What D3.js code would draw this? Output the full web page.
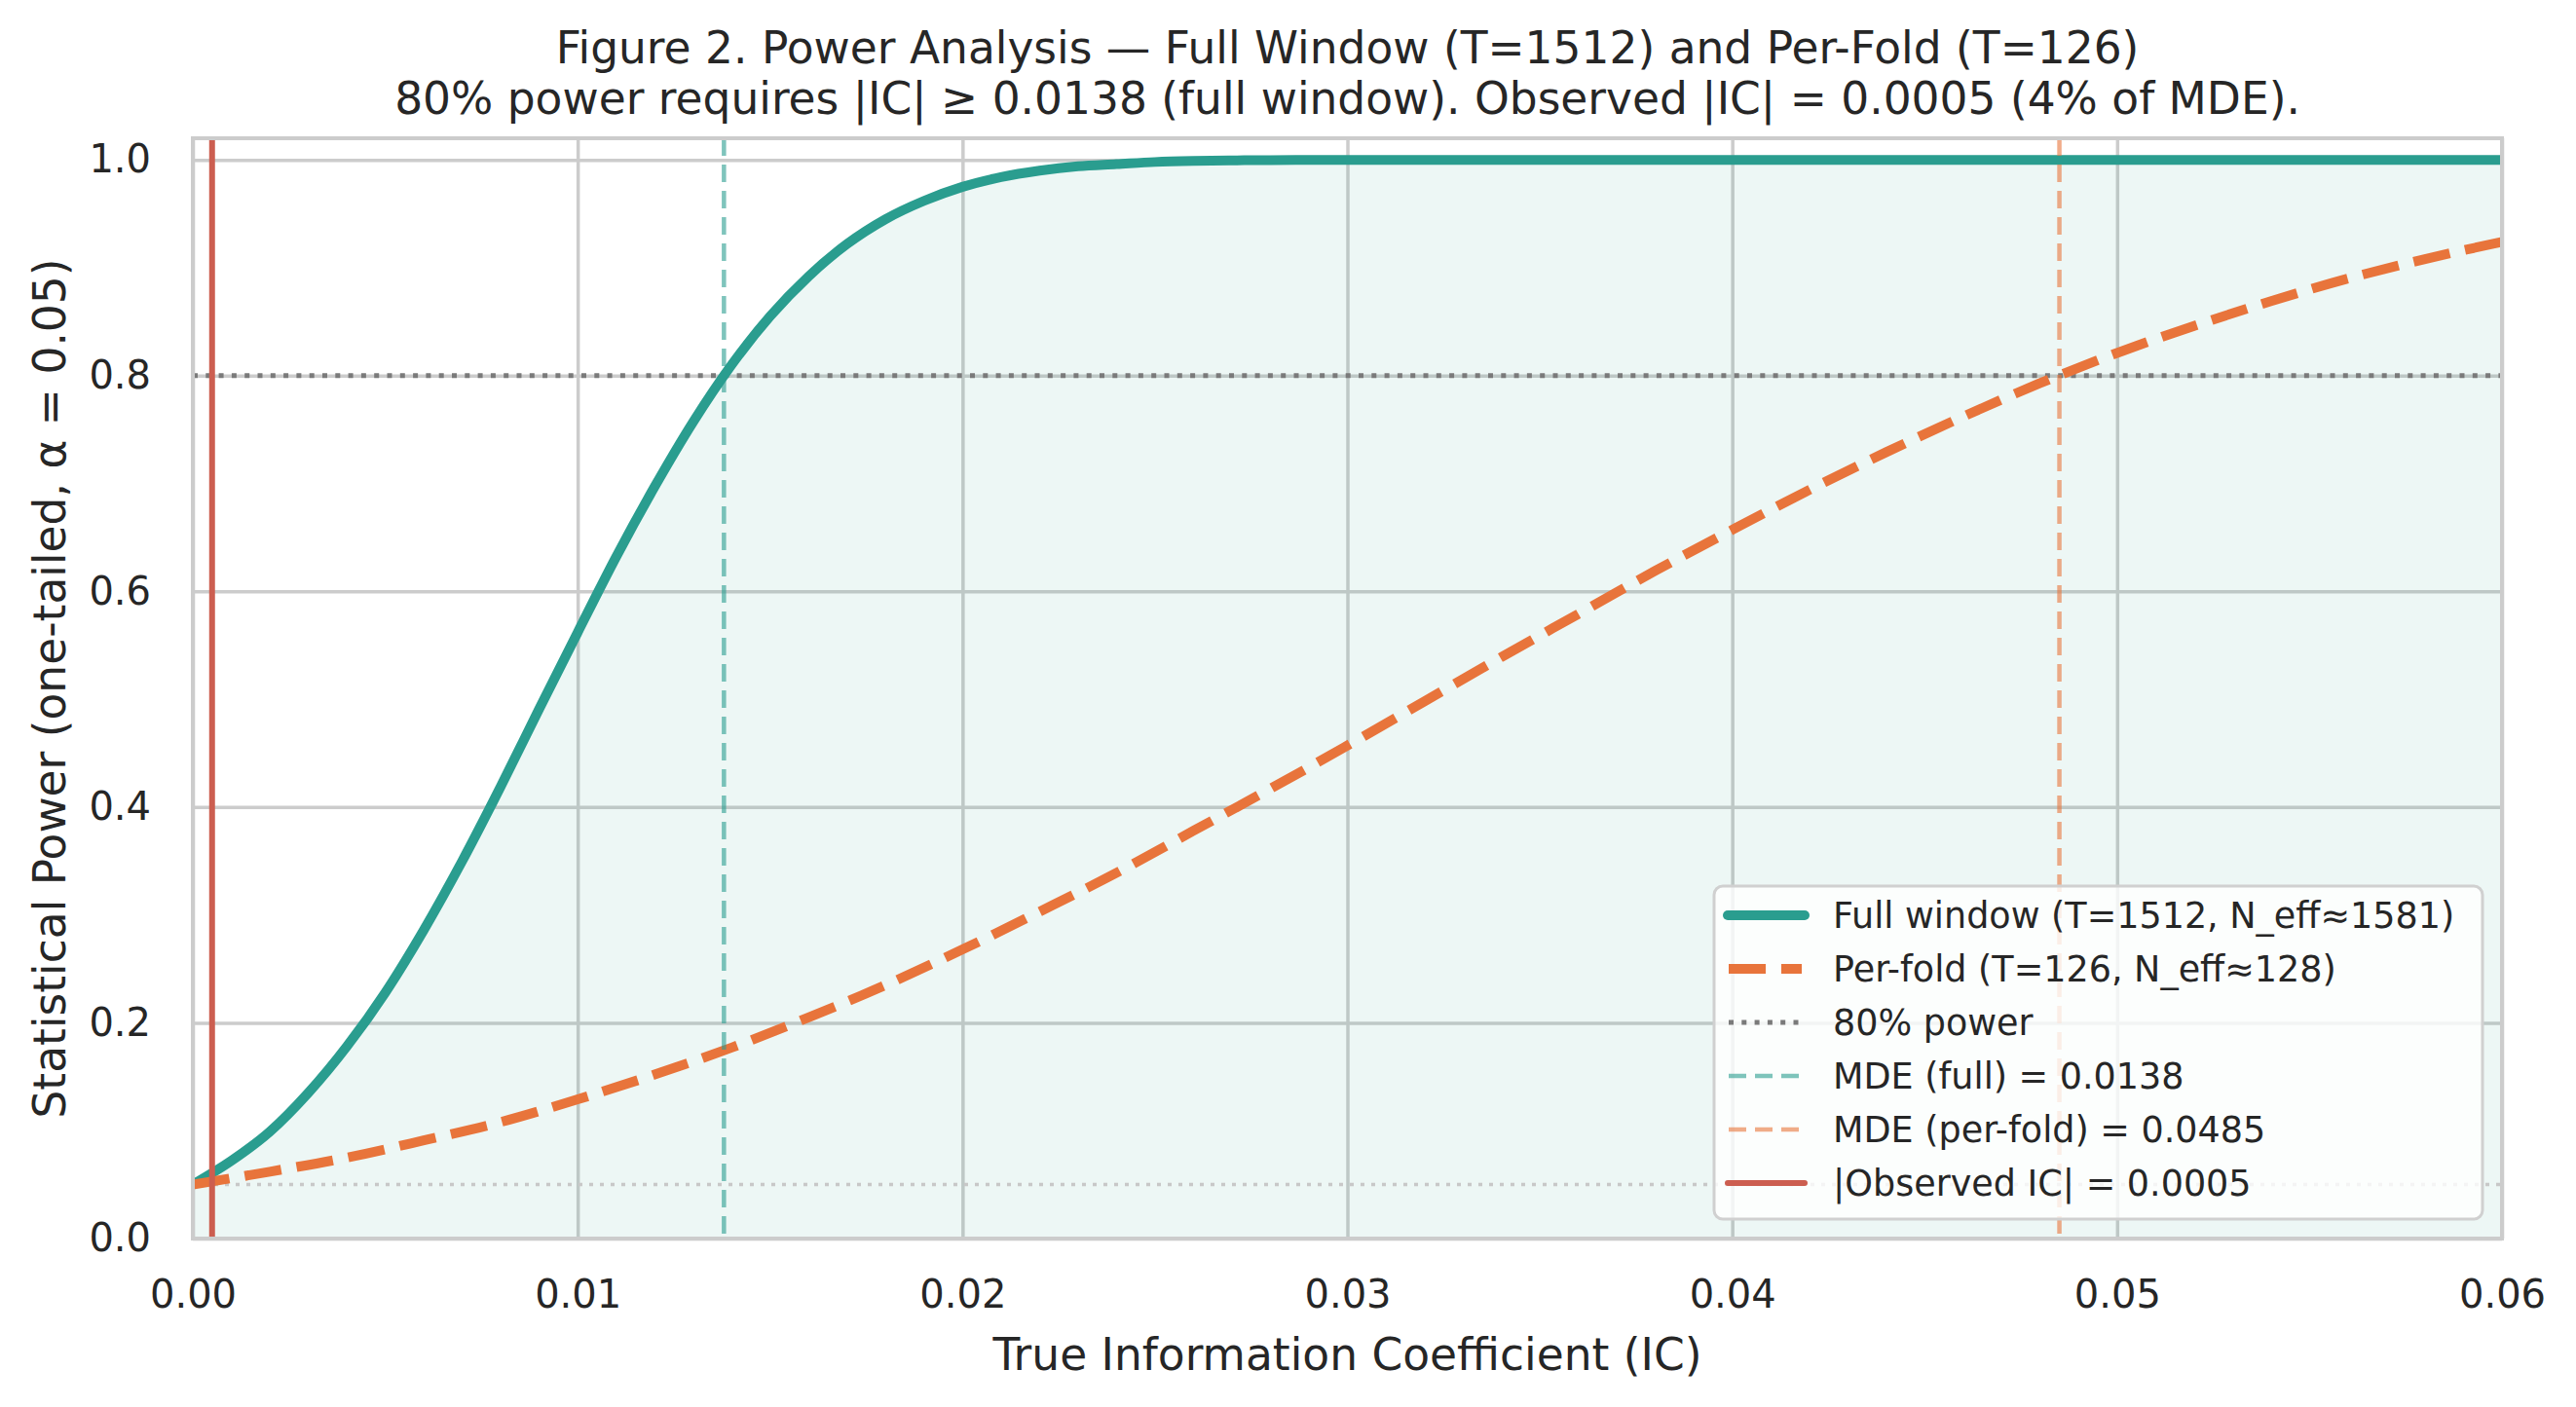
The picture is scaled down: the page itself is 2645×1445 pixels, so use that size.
<!DOCTYPE html>
<html>
<head>
<meta charset="utf-8">
<script src="https://cdn.jsdelivr.net/npm/d3@7"></script>
<style>
  body { margin: 0; background: #fff; }
  text { font-family: "DejaVu Sans", sans-serif; fill: #262626; }
</style>
</head>
<body>
<div id="chart"></div>
<script>
// values
var icFull = [0, 0.001, 0.002, 0.003, 0.004, 0.005, 0.006, 0.007, 0.008, 0.009, 0.010,
  0.011, 0.012, 0.013, 0.014, 0.015, 0.016, 0.017, 0.018, 0.019, 0.020,
  0.021, 0.022, 0.023, 0.024, 0.025, 0.026, 0.027, 0.028, 0.029, 0.030, 0.040, 0.050, 0.060];
var powerFull = [0.050, 0.072, 0.099, 0.135, 0.178, 0.228, 0.286, 0.350, 0.419, 0.491, 0.562,
  0.632, 0.697, 0.757, 0.810, 0.855, 0.892, 0.922, 0.945, 0.962, 0.975,
  0.984, 0.990, 0.994, 0.996, 0.998, 0.999, 0.9995, 0.9998, 0.9999, 1.0, 1.0, 1.0, 1.0];

var icFold = [0, 0.002, 0.004, 0.006, 0.008, 0.010, 0.012, 0.014, 0.016, 0.018, 0.020,
  0.022, 0.024, 0.026, 0.028, 0.030, 0.032, 0.034, 0.036, 0.038, 0.040,
  0.042, 0.044, 0.046, 0.048, 0.050, 0.052, 0.054, 0.056, 0.058, 0.060];
var powerFold = [0.050, 0.062, 0.075, 0.091, 0.108, 0.129, 0.152, 0.177, 0.205, 0.235, 0.268,
  0.303, 0.339, 0.378, 0.417, 0.457, 0.498, 0.539, 0.579, 0.619, 0.657,
  0.694, 0.729, 0.762, 0.793, 0.821, 0.846, 0.869, 0.890, 0.908, 0.924];

var mdeFull = 0.0138, mdeFold = 0.0485, observedIC = 0.0005;
var powerTarget = 0.8, alphaLevel = 0.05;

var xTicks = [0, 0.01, 0.02, 0.03, 0.04, 0.05, 0.06];
var yTicks = [0, 0.2, 0.4, 0.6, 0.8, 1.0];

var titleLines = ["Figure 2. Power Analysis \u2014 Full Window (T=1512) and Per-Fold (T=126)",
  "80% power requires |IC| \u2265 0.0138 (full window). Observed |IC| = 0.0005 (4% of MDE)."];
var legendLabels = ["Full window (T=1512, N_eff\u22481581)", "Per-fold (T=126, N_eff\u2248128)", "80% power",
  "MDE (full) = 0.0138", "MDE (per-fold) = 0.0485", "|Observed IC| = 0.0005"];

var teal = "#2a9d8f", orange = "#e8743b", red = "#cc5e50";

var W = 2645, H = 1445;
var margin = {top: 142, right: 76, bottom: 173, left: 198};
var width = W - margin.left - margin.right, height = H - margin.top - margin.bottom;

var svg = d3.select("#chart").append("svg").attr("width", W).attr("height", H);
var g = svg.append("g").attr("transform", `translate(${margin.left},${margin.top})`);

var x = d3.scaleLinear().domain([0, 0.06]).range([0, width]);
var y = d3.scaleLinear().domain([0, 1.02]).range([height, 0]);

svg.append("defs").append("clipPath").attr("id", "clip").append("rect").attr("width", width).attr("height", height);

// grid
g.append("g").attr("class", "grid").attr("transform", `translate(0,${height})`)
  .call(d3.axisBottom(x).tickValues(xTicks).tickSize(-height).tickFormat(""));
g.append("g").attr("class", "grid")
  .call(d3.axisLeft(y).tickValues(yTicks).tickSize(-width).tickFormat(""));
g.selectAll(".grid .domain").remove();
g.selectAll(".grid line").attr("stroke", "#cccccc").attr("stroke-width", 3.5);

var plot = g.append("g").attr("clip-path", "url(#clip)");

var fullPts = icFull.map((d, i) => [d, powerFull[i]]);
var foldPts = icFold.map((d, i) => [d, powerFold[i]]);

plot.append("path").datum(fullPts)
  .attr("fill", teal).attr("fill-opacity", 0.085)
  .attr("d", d3.area().x(d => x(d[0])).y0(y(0)).y1(d => y(d[1])).curve(d3.curveMonotoneX));

var line = d3.line().x(d => x(d[0])).y(d => y(d[1])).curve(d3.curveMonotoneX);

// reference lines
plot.append("line").attr("x1", 0).attr("x2", width).attr("y1", y(alphaLevel)).attr("y2", y(alphaLevel))
  .attr("stroke", "#c8c8c8").attr("stroke-width", 3.5).attr("stroke-dasharray", "4,7");
plot.append("line").attr("x1", 0).attr("x2", width).attr("y1", y(powerTarget)).attr("y2", y(powerTarget))
  .attr("stroke", "#7a7a7a").attr("stroke-width", 5).attr("stroke-dasharray", "5,8.3");

plot.append("path").datum(fullPts).attr("fill", "none").attr("stroke", teal).attr("stroke-width", 10).attr("d", line);
plot.append("path").datum(foldPts).attr("fill", "none").attr("stroke", orange).attr("stroke-width", 10)
  .attr("stroke-dasharray", "38,16").attr("d", line);

plot.append("line").attr("x1", x(mdeFull)).attr("x2", x(mdeFull)).attr("y1", 0).attr("y2", height)
  .attr("stroke", teal).attr("stroke-opacity", 0.6).attr("stroke-width", 4.5).attr("stroke-dasharray", "18,9");
plot.append("line").attr("x1", x(mdeFold)).attr("x2", x(mdeFold)).attr("y1", 0).attr("y2", height)
  .attr("stroke", orange).attr("stroke-opacity", 0.6).attr("stroke-width", 4.5).attr("stroke-dasharray", "18,9");
plot.append("line").attr("x1", x(observedIC)).attr("x2", x(observedIC)).attr("y1", 0).attr("y2", height)
  .attr("stroke", red).attr("stroke-width", 6);

// frame
g.append("rect").attr("width", width).attr("height", height).attr("fill", "none").attr("stroke", "#cccccc").attr("stroke-width", 4);

// axes
var xAxis = g.append("g").attr("transform", `translate(0,${height})`)
  .call(d3.axisBottom(x).tickValues(xTicks).tickSize(0).tickPadding(43).tickFormat(d3.format(".2f")));
var yAxis = g.append("g")
  .call(d3.axisLeft(y).tickValues(yTicks).tickSize(0).tickPadding(43).tickFormat(d3.format(".1f")));
[xAxis, yAxis].forEach(a => {
  a.select(".domain").remove();
  a.selectAll("text").attr("font-size", 40).attr("font-family", "DejaVu Sans").attr("fill", "#262626");
});

g.append("text").attr("x", width / 2).attr("y", height + 135).attr("text-anchor", "middle")
  .attr("font-size", 45.5).text("True Information Coefficient (IC)");
g.append("text").attr("transform", `translate(${51 - margin.left},${height / 2}) rotate(-90)`)
  .attr("text-anchor", "middle").attr("dy", "0.36em").attr("font-size", 45.5)
  .text("Statistical Power (one-tailed, \u03b1 = 0.05)");

svg.selectAll(".title").data(titleLines).join("text").attr("class", "title")
  .attr("x", margin.left + width / 2).attr("y", (d, i) => 65 + i * 52)
  .attr("text-anchor", "middle").attr("font-size", 45.5).text(d => d);

// legend
var lg = svg.append("g").attr("transform", "translate(1760,910)");
lg.append("rect").attr("width", 789).attr("height", 342).attr("rx", 9)
  .attr("fill", "#ffffff").attr("fill-opacity", 0.8).attr("stroke", "#d0d0d0").attr("stroke-width", 3);

var handles = [
  {stroke: teal, w: 10, dash: null, cap: "round", op: 1},
  {stroke: orange, w: 10, dash: "38,16", cap: "butt", op: 1},
  {stroke: "#7a7a7a", w: 5, dash: "5,8.3", cap: "butt", op: 1},
  {stroke: teal, w: 4.5, dash: "18,9", cap: "butt", op: 0.6},
  {stroke: orange, w: 4.5, dash: "18,9", cap: "butt", op: 0.6},
  {stroke: red, w: 6, dash: null, cap: "round", op: 1}
];
var rows = lg.selectAll(".row").data(legendLabels).join("g").attr("class", "row")
  .attr("transform", (d, i) => `translate(0,${30 + i * 55})`);
rows.append("line").attr("x1", (d, i) => handles[i].cap === "round" ? 14 : 15).attr("x2", (d, i) => handles[i].cap === "round" ? 93 : 90)
  .attr("stroke", (d, i) => handles[i].stroke).attr("stroke-width", (d, i) => handles[i].w)
  .attr("stroke-opacity", (d, i) => handles[i].op)
  .attr("stroke-dasharray", (d, i) => handles[i].dash).attr("stroke-linecap", (d, i) => handles[i].cap);
rows.append("text").attr("x", 122).attr("dy", "0.36em").attr("font-size", 36.5).text(d => d);
</script>
</body>
</html>
